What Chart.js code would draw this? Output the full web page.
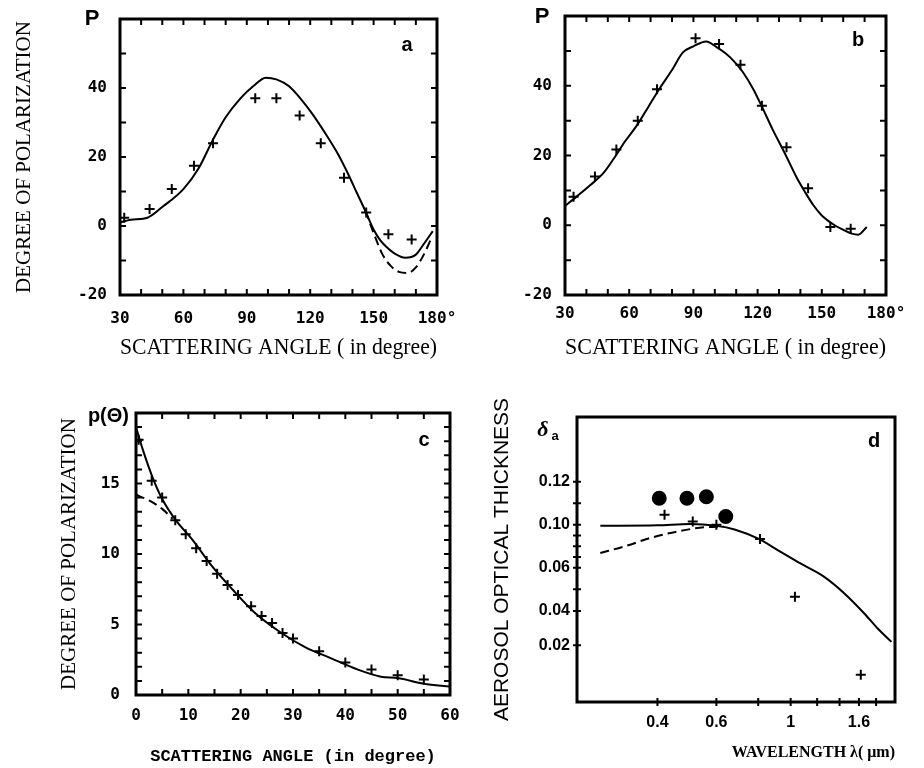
<!DOCTYPE html>
<html>
<head>
<meta charset="utf-8">
<script src="https://cdn.jsdelivr.net/npm/chart.js@4.4.0/dist/chart.umd.min.js"></script>
<style>
  body { margin: 0; background: #fff; }
  #wrap { position: relative; width: 924px; height: 768px; }
  canvas { position: absolute; }
</style>
</head>
<body>
<div id="wrap">
  <canvas id="chart-a" width="460" height="384" style="left:0;top:0"></canvas>
  <canvas id="chart-b" width="464" height="384" style="left:460px;top:0"></canvas>
  <canvas id="chart-c" width="460" height="384" style="left:0;top:384px"></canvas>
  <canvas id="chart-d" width="464" height="384" style="left:460px;top:384px"></canvas>
</div>
<script>
// panel a
const aCurveX = [30, 35, 43, 50, 60, 67, 74, 80, 87, 93, 99, 104, 110, 116, 121, 127, 133, 138, 142, 146, 150, 153, 156, 160, 165, 170, 174, 178];
const aCurveY = [1, 1.8, 2.4, 5.5, 10.7, 16.5, 25, 31.5, 37, 40.5, 43, 42.5, 40.5, 36.5, 32.5, 27, 21, 15, 9.7, 4.5, -1, -4, -6, -8, -9.2, -8.3, -5, -1.5];
const aDashX = [146, 150, 154, 158, 162, 166, 170, 174, 177];
const aDashY = [4.5, -2, -8, -11.5, -13.3, -13.6, -12, -8, -4];
const aObsX = [32, 44, 54.5, 65, 74, 94, 104, 115, 125, 136, 146.5, 157, 168];
const aObsY = [2.4, 4.9, 10.7, 17.5, 24, 37, 37, 32, 24, 14, 3.9, -2.4, -3.9];

// panel b
const bCurveX = [30, 36, 42, 48, 53, 58, 64, 69, 74, 80, 85, 90, 96, 101, 105, 109, 113, 118, 122, 127, 133, 138, 142, 146, 150, 156, 160, 164, 167, 171];
const bCurveY = [5.5, 8.5, 11.6, 15, 19.3, 24, 29, 34, 39, 44.5, 49.5, 51.3, 52.7, 51, 49.3, 47, 44, 39, 34, 27.5, 20.3, 14, 9.7, 5.8, 2.8, 0, -1.3, -2.4, -2.7, -0.5];
const bObsX = [34, 44, 54, 64, 73, 91, 102, 112, 122, 133.5, 143.6, 154, 163.5];
const bObsY = [8.2, 14, 21.7, 30, 39, 53.6, 52, 46, 34.3, 22.4, 10.6, -0.5, -1];

// angle axes of a and b
const angleLabels = [30, 60, 90, 120, 150, 180];
const angleMarks = [40, 50, 60, 70, 80, 90, 100, 110, 120, 130, 140, 150, 160, 170];
const polLabels = [-20, 0, 20, 40];
const polMarks = [-10, 0, 10, 20, 30, 40, 50];

// panel c
const cCurveX = [0, 1.3, 3.2, 5, 7.6, 10.8, 14.6, 18.4, 22.8, 27.8, 32.3, 37.3, 42.4, 46.8, 50, 55, 60];
const cCurveY = [19, 17.4, 15.4, 13.9, 12.4, 11, 9.1, 7.5, 5.8, 4.4, 3.4, 2.6, 1.8, 1.3, 1.2, 0.8, 0.6];
const cDashX = [0, 2.5, 5, 7];
const cDashY = [14.2, 13.8, 13.2, 12.5];
const cObsX = [0.5, 3, 5, 7.5, 9.5, 11.5, 13.5, 15.5, 17.5, 19.5, 22, 24, 26, 28, 30, 35, 40, 45, 50, 55];
const cObsY = [18.1, 15.2, 14, 12.4, 11.4, 10.4, 9.5, 8.6, 7.8, 7.1, 6.3, 5.6, 5.1, 4.4, 4, 3.1, 2.3, 1.8, 1.4, 1.1];
const cXLabels = [0, 10, 20, 30, 40, 50, 60];
const cXMarks = [5, 10, 15, 20, 25, 30, 35, 40, 45, 50, 55];
const cYLabels = [0, 5, 10, 15];
const cYMarks = [1, 2, 3, 4, 5, 6, 7, 8, 9, 10, 11, 12, 13, 14, 15, 16, 17, 18, 19];

// panel d (log wavelength axis)
const dCurveX = [0.27, 0.4, 0.5, 0.6, 0.68, 0.8, 0.92, 1.07, 1.26, 1.45, 1.66, 1.82, 2.0];
const dCurveY = [0.0995, 0.0997, 0.1003, 0.0995, 0.0978, 0.0935, 0.088, 0.082, 0.0758, 0.068, 0.0588, 0.0518, 0.0456];
const dDashX = [0.27, 0.32, 0.38, 0.46, 0.55, 0.63];
const dDashY = [0.0869, 0.09, 0.0938, 0.0969, 0.0988, 0.0992];
const dObsX = [0.42, 0.51, 0.6, 0.81, 1.03, 1.62];
const dObsY = [0.1046, 0.1015, 0.1, 0.0934, 0.0666, 0.0303];
const dDotX = [0.405, 0.49, 0.56, 0.64];
const dDotY = [0.1123, 0.1123, 0.113, 0.1038];
const dXLabels = [0.4, 0.6, 1, 1.6];
const dXText = ['0.4', '0.6', '1', '1.6'];
const dXMarks = [0.4, 0.6, 0.8, 1, 1.2, 1.4, 1.6, 1.8];
const dYLabels = [0.12, 0.10, 0.08, 0.06, 0.044];
const dYText = ['0.12', '0.10', '0.06', '0.04', '0.02'];
const dYMarks = [0.12, 0.11, 0.10, 0.095, 0.09, 0.085, 0.08, 0.07, 0.06, 0.044];

const monoFont = {family: 'DejaVu Sans Mono', weight: 'bold', size: 16};
const sansBold = {family: 'Liberation Sans', weight: 'bold', size: 16};

const pairs = (xs, ys) => xs.map((x, i) => ({x: x, y: ys[i]}));

function curve(xs, ys, dashed) {
  return {
    type: 'line', data: pairs(xs, ys),
    borderColor: '#000', borderWidth: 2, pointRadius: 0,
    cubicInterpolationMode: 'monotone', borderDash: dashed ? [9, 5] : [],
    fill: false
  };
}

function marks(xs, ys, style, r) {
  return {
    type: 'scatter', data: pairs(xs, ys),
    pointStyle: style, pointRadius: r, borderWidth: 2,
    borderColor: '#000', backgroundColor: '#000'
  };
}

// frame box and inward tick marks
function frame(o) {
  return {
    id: 'frame',
    afterDatasetsDraw(chart) {
      const {ctx, chartArea: a, scales: {x, y}} = chart;
      ctx.save();
      ctx.strokeStyle = '#000';
      ctx.lineWidth = 3;
      ctx.strokeRect(a.left, a.top, a.right - a.left, a.bottom - a.top);
      ctx.lineWidth = 2;
      ctx.beginPath();
      o.xMarks.forEach(v => {
        const p = x.getPixelForValue(v);
        ctx.moveTo(p, a.bottom + o.out); ctx.lineTo(p, a.bottom - o.len);
        if (o.all) { ctx.moveTo(p, a.top); ctx.lineTo(p, a.top + o.len); }
      });
      o.yMarks.forEach(v => {
        const p = y.getPixelForValue(v);
        ctx.moveTo(a.left - o.out, p); ctx.lineTo(a.left + o.len, p);
        if (o.all) { ctx.moveTo(a.right, p); ctx.lineTo(a.right - o.len, p); }
      });
      ctx.stroke();
      ctx.restore();
    }
  };
}

// corner letters
function decor(items) {
  return {
    id: 'decor',
    afterDraw(chart) {
      const {ctx, chartArea: a} = chart;
      ctx.save();
      ctx.fillStyle = '#000';
      ctx.textBaseline = 'middle';
      items.forEach(t => {
        ctx.font = t.font;
        ctx.textAlign = t.align || 'center';
        const x = t.side === 'right' ? a.right + t.dx : a.left + t.dx;
        ctx.fillText(t.text, x, a.top + t.dy);
      });
      ctx.restore();
    }
  };
}

function axes(o) {
  return {
    x: {
      type: o.xType || 'linear', min: o.xMin, max: o.xMax,
      grid: {display: false, drawTicks: false}, border: {display: false},
      afterBuildTicks: s => { s.ticks = o.xLabels.map(v => ({value: v})); },
      afterFit: s => { s.height = o.xHeight; s.paddingLeft = 0; s.paddingRight = 0; },
      ticks: {autoSkip: false, maxRotation: 0, padding: o.xPad, color: '#000', font: o.xFont, callback: o.xFmt},
      title: o.xTitle
    },
    y: {
      type: 'linear', min: o.yMin, max: o.yMax,
      grid: {display: false, drawTicks: false}, border: {display: false},
      afterBuildTicks: s => { s.ticks = o.yLabels.map(v => ({value: v})); },
      afterFit: s => { s.width = o.yWidth; s.paddingTop = 0; s.paddingBottom = 0; },
      ticks: {autoSkip: false, padding: o.yPad, color: '#000', font: o.yFont, callback: o.yFmt},
      title: o.yTitle || {display: false}
    }
  };
}

function baseOptions(pad, scales) {
  return {
    responsive: false, animation: false,
    layout: {padding: pad},
    plugins: {legend: {display: false}, tooltip: {enabled: false}},
    scales: scales
  };
}

const degFmt = v => v === 180 ? '180°' : String(v);

// chart a
new Chart(document.getElementById('chart-a'), {
  type: 'scatter',
  data: {datasets: [
    curve(aCurveX, aCurveY, false),
    curve(aDashX, aDashY, true),
    marks(aObsX, aObsY, 'cross', 5)
  ]},
  options: baseOptions({left: 0, right: 23, top: 19, bottom: 0}, axes({
    xMin: 30, xMax: 180, xLabels: angleLabels, xHeight: 89, xPad: 14, xFont: monoFont, xFmt: degFmt,
    xTitle: {display: true, text: 'SCATTERING ANGLE ( in degree)', color: '#000',
      font: {family: 'Liberation Serif', size: 23}, padding: {top: 0, bottom: 22}},
    yMin: -20, yMax: 60, yLabels: polLabels, yWidth: 120, yPad: 13, yFont: monoFont,
    yTitle: {display: true, text: 'DEGREE OF POLARIZATION', color: '#000',
      font: {family: 'Liberation Serif', size: 21}, padding: {top: 12, bottom: 0}}
  })),
  plugins: [frame({xMarks: angleMarks, yMarks: polMarks, len: 6, out: 0, all: true}),
    decor([
      {text: 'P', dx: -28, dy: 0, font: 'bold 22px "Liberation Sans"'},
      {text: 'a', side: 'right', dx: -30, dy: 26, font: 'bold 20px "Liberation Sans"'}
    ])]
});

// chart b
new Chart(document.getElementById('chart-b'), {
  type: 'scatter',
  data: {datasets: [
    curve(bCurveX, bCurveY, false),
    marks(bObsX, bObsY, 'cross', 5)
  ]},
  options: baseOptions({left: 0, right: 38, top: 16, bottom: 0}, axes({
    xMin: 30, xMax: 180, xLabels: angleLabels, xHeight: 89, xPad: 9, xFont: monoFont, xFmt: degFmt,
    xTitle: {display: true, text: 'SCATTERING ANGLE ( in degree)', color: '#000',
      font: {family: 'Liberation Serif', size: 23}, padding: {top: 0, bottom: 22}},
    yMin: -20, yMax: 60, yLabels: polLabels, yWidth: 105, yPad: 13, yFont: monoFont
  })),
  plugins: [frame({xMarks: angleMarks, yMarks: polMarks, len: 6, out: 0, all: true}),
    decor([
      {text: 'P', dx: -23, dy: 1, font: 'bold 22px "Liberation Sans"'},
      {text: 'b', side: 'right', dx: -28, dy: 24, font: 'bold 20px "Liberation Sans"'}
    ])]
});

// chart c
new Chart(document.getElementById('chart-c'), {
  type: 'scatter',
  data: {datasets: [
    curve(cCurveX, cCurveY, false),
    curve(cDashX, cDashY, true),
    marks(cObsX, cObsY, 'cross', 5)
  ]},
  options: baseOptions({left: 0, right: 10, top: 29, bottom: 0}, axes({
    xMin: 0, xMax: 60, xLabels: cXLabels, xHeight: 73, xPad: 11, xFont: monoFont,
    xTitle: {display: true, text: 'SCATTERING ANGLE (in degree)', color: '#000',
      font: {family: 'Liberation Mono', weight: 'bold', size: 17}, padding: {top: 0, bottom: 1}},
    yMin: 0, yMax: 20, yLabels: cYLabels, yWidth: 136, yPad: 16, yFont: monoFont,
    yTitle: {display: true, text: 'DEGREE OF POLARIZATION', color: '#000',
      font: {family: 'Liberation Serif', size: 21}, padding: {top: 57, bottom: 0}}
  })),
  plugins: [frame({xMarks: cXMarks, yMarks: cYMarks, len: 6, out: 0, all: true}),
    decor([
      {text: 'p(Θ)', dx: -7, dy: 3, align: 'right', font: 'bold 20px "Liberation Sans"'},
      {text: 'c', side: 'right', dx: -26, dy: 27, font: 'bold 20px "Liberation Sans"'}
    ])]
});

// chart d
new Chart(document.getElementById('chart-d'), {
  type: 'scatter',
  data: {datasets: [
    curve(dCurveX, dCurveY, false),
    curve(dDashX, dDashY, true),
    marks(dObsX, dObsY, 'cross', 5),
    marks(dDotX, dDotY, 'circle', 6.5)
  ]},
  options: baseOptions({left: 0, right: 29, top: 33, bottom: 0}, axes({
    xType: 'logarithmic', xMin: 0.23, xMax: 2.05, xLabels: dXLabels, xHeight: 66, xPad: 11, xFont: sansBold,
    xFmt: v => dXText[dXLabels.indexOf(v)],
    xTitle: {display: true, text: 'WAVELENGTH λ( μm)', align: 'end', color: '#000',
      font: {family: 'Liberation Serif', weight: 'bold', size: 16}, padding: {top: 0, bottom: 6}},
    yMin: 0.0177, yMax: 0.150, yLabels: dYLabels, yWidth: 117, yPad: 7, yFont: sansBold,
    yFmt: v => dYText[dYLabels.indexOf(v)],
    yTitle: {display: true, text: 'AEROSOL OPTICAL THICKNESS', color: '#000',
      font: {family: 'Liberation Sans', size: 21}, padding: {top: 30, bottom: 0}}
  })),
  plugins: [frame({xMarks: dXMarks, yMarks: dYMarks, len: 4, out: 4, all: false}),
    decor([
      {text: 'δ', dx: -34, dy: 13, font: 'italic bold 22px "Liberation Serif"'},
      {text: 'a', dx: -22, dy: 19, font: 'bold 13px "Liberation Sans"'},
      {text: 'd', side: 'right', dx: -21, dy: 24, font: 'bold 20px "Liberation Sans"'}
    ])]
});
</script>
</body>
</html>
